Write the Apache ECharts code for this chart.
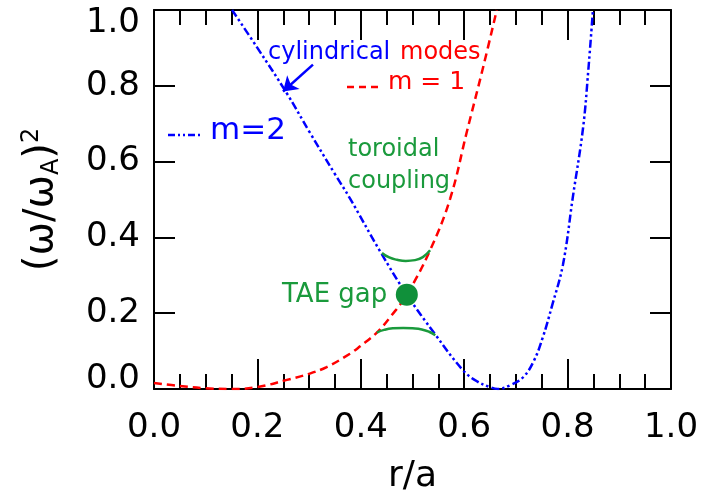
<!DOCTYPE html>
<html>
<head>
<meta charset="utf-8">
<script src="https://cdn.jsdelivr.net/npm/echarts@6/dist/echarts.min.js"></script>
<style>
  html, body { margin: 0; background: #fff; }
  #main { width: 704px; height: 500px; }
</style>
</head>
<body>
<div id="main"></div>
<script>
// m=1 柱面模 (红色虚线)
const rM1 = [0, 0.05, 0.1, 0.15, 0.2, 0.257, 0.3, 0.334, 0.379, 0.398, 0.431, 0.46, 0.489, 0.534, 0.573, 0.605, 0.637, 0.663];
const wM1 = [0.016, 0.008, 0.002, 0, 0.005, 0.024, 0.04, 0.058, 0.093, 0.112, 0.149, 0.195, 0.249, 0.366, 0.503, 0.678, 0.851, 1.0];
// m=2 柱面模 (蓝色点划线)
const rM2 = [0.151, 0.2, 0.257, 0.3, 0.35, 0.379, 0.437, 0.489, 0.544, 0.598, 0.625, 0.65, 0.665, 0.689, 0.714, 0.735, 0.752, 0.77, 0.791, 0.81, 0.83, 0.84, 0.849];
const wM2 = [1.0, 0.9, 0.78, 0.68, 0.567, 0.503, 0.364, 0.249, 0.144, 0.049, 0.02, 0.005, 0, 0.01, 0.031, 0.075, 0.136, 0.22, 0.328, 0.505, 0.69, 0.84, 1.0];
// 环向耦合后的上下分支
const rGapTop = [0.441, 0.455, 0.47, 0.487, 0.505, 0.52, 0.534];
const wGapTop = [0.359, 0.347, 0.341, 0.338, 0.34, 0.348, 0.366];
const rGapBot = [0.431, 0.445, 0.462, 0.482, 0.5, 0.518, 0.532, 0.544];
const wGapBot = [0.149, 0.156, 0.16, 0.161, 0.16, 0.157, 0.151, 0.142];
// TAE gap 点
const taeGap = [0.489, 0.249];
// 箭头 (cylindrical -> m=2 曲线)
const arrowFrom = [0.3075, 0.856];
const arrowTo = [0.2495, 0.785];

const pairs = (xs, ys) => xs.map((x, i) => [x, ys[i]]);

const FONT = 'DejaVu Sans';
const BLUE = '#0000ff';
const RED = '#ff0000';
const GREEN = '#1a9a3c';

const axisLine = { show: true, onZero: false, lineStyle: { color: '#000', width: 2 } };
const xTick = { show: true, inside: true, length: 30, lineStyle: { color: '#000', width: 2 } };
const xMinor = { show: true, splitNumber: 4, length: 15, lineStyle: { color: '#000', width: 2 } };
const yTick = { show: true, inside: true, length: 21, lineStyle: { color: '#000', width: 2 } };

const chart = echarts.init(document.getElementById('main'));

const option = {
  animation: false,
  grid: { left: 154, right: 33, top: 10, bottom: 108 },
  xAxis: [
    {
      type: 'value', min: 0, max: 1, interval: 0.2, position: 'bottom',
      axisLine: axisLine, axisTick: xTick, minorTick: xMinor,
      splitLine: { show: false },
      axisLabel: {
        margin: 22, fontSize: 34, fontFamily: FONT, color: '#000',
        showMinLabel: true, showMaxLabel: true,
        formatter: v => v.toFixed(1)
      },
      name: 'r/a', nameLocation: 'middle', nameGap: 70,
      nameTextStyle: { fontSize: 36, fontFamily: FONT, color: '#000' }
    },
    {
      type: 'value', min: 0, max: 1, interval: 0.2, position: 'top',
      axisLine: axisLine, axisTick: xTick, minorTick: xMinor,
      splitLine: { show: false }, axisLabel: { show: false }
    }
  ],
  yAxis: [
    {
      type: 'value', min: 0, max: 1, interval: 0.2, position: 'left',
      axisLine: axisLine, axisTick: yTick, splitLine: { show: false },
      axisLabel: {
        margin: 14, fontSize: 34, fontFamily: FONT, color: '#000',
        showMinLabel: true, showMaxLabel: true,
        formatter: v => v === 1 ? '{t|1.0}' : (v === 0 ? '{b|0.0}' : v.toFixed(1)),
        rich: {
          t: { fontSize: 34, fontFamily: FONT, color: '#000', padding: [26, 0, 0, 0] },
          b: { fontSize: 34, fontFamily: FONT, color: '#000', padding: [0, 0, 20, 0] }
        }
      },
      name: '{a|(ω/ω}{s|A}{a|)}{p|2}', nameLocation: 'middle', nameGap: 90,
      nameTextStyle: {
        rich: {
          a: { fontSize: 40, fontFamily: FONT, color: '#000', lineHeight: 44 },
          s: { fontSize: 24, fontFamily: FONT, color: '#000', verticalAlign: 'bottom' },
          p: { fontSize: 24, fontFamily: FONT, color: '#000', verticalAlign: 'top' }
        }
      }
    },
    {
      type: 'value', min: 0, max: 1, interval: 0.2, position: 'right',
      axisLine: axisLine, axisTick: yTick, splitLine: { show: false },
      axisLabel: { show: false }
    }
  ],
  series: [
    {
      name: 'm=1', type: 'line', data: pairs(rM1, wM1), smooth: 0.4,
      showSymbol: false, silent: true,
      lineStyle: { color: RED, width: 2.5, type: [8, 5] }
    },
    {
      name: 'm=2', type: 'line', data: pairs(rM2, wM2), smooth: 0.4,
      showSymbol: false, silent: true,
      lineStyle: { color: BLUE, width: 2.5, type: [8, 3, 2.5, 3, 2.5, 3] },
      markLine: {
        silent: true, symbol: ['none', 'arrow'], symbolSize: [14, 14],
        label: { show: false },
        lineStyle: { color: BLUE, width: 2.5, type: 'solid' },
        data: [[{ coord: arrowFrom }, { coord: arrowTo }]]
      }
    },
    {
      type: 'line', data: pairs(rGapTop, wGapTop), smooth: 0.5,
      showSymbol: false, silent: true, lineStyle: { color: GREEN, width: 2.5 }
    },
    {
      type: 'line', data: pairs(rGapBot, wGapBot), smooth: 0.5,
      showSymbol: false, silent: true, lineStyle: { color: GREEN, width: 2.5 }
    },
    {
      type: 'scatter', data: [taeGap], symbolSize: 22, silent: true,
      itemStyle: { color: '#10903a', opacity: 1 }, z: 10
    }
  ],
  graphic: [
    { type: 'text', left: 268, top: 41, style: { text: 'cylindrical', fontSize: 24, fontFamily: FONT, fill: BLUE } },
    { type: 'text', left: 400, top: 41, style: { text: 'modes', fontSize: 24, fontFamily: FONT, fill: RED } },
    { type: 'line', shape: { x1: 347, y1: 87, x2: 380, y2: 87 }, style: { stroke: RED, lineWidth: 2.5, lineDash: [7, 5] } },
    { type: 'text', left: 388, top: 70, style: { text: 'm = 1', fontSize: 25, fontFamily: FONT, fill: RED } },
    { type: 'line', shape: { x1: 168, y1: 135, x2: 202, y2: 135 }, style: { stroke: BLUE, lineWidth: 2.5, lineDash: [7, 3, 2, 3, 2, 3] } },
    { type: 'text', left: 210, top: 115, style: { text: 'm=2', fontSize: 31, fontFamily: FONT, fill: BLUE } },
    { type: 'text', left: 348, top: 138, style: { text: 'toroidal', fontSize: 24, fontFamily: FONT, fill: GREEN } },
    { type: 'text', left: 348, top: 170, style: { text: 'coupling', fontSize: 24, fontFamily: FONT, fill: GREEN } },
    { type: 'text', left: 282, top: 282, style: { text: 'TAE gap', fontSize: 26, fontFamily: FONT, fill: GREEN } }
  ]
};

chart.setOption(option);
</script>
</body>
</html>
